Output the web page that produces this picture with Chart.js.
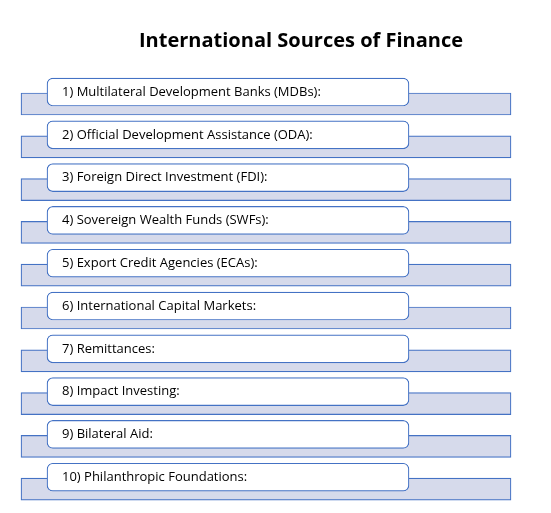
<!DOCTYPE html>
<html><head><meta charset="utf-8">
<script src="https://cdn.jsdelivr.net/npm/chart.js@4"></script>
<style>html,body{margin:0;padding:0;background:#fff}#w{width:551px;height:513px}</style>
</head><body><div id="w"><canvas id="c"></canvas></div>
<script>
const title = "International Sources of Finance";
const categories = ["1) Multilateral Development Banks (MDBs):","2) Official Development Assistance (ODA):","3) Foreign Direct Investment (FDI):","4) Sovereign Wealth Funds (SWFs):","5) Export Credit Agencies (ECAs):","6) International Capital Markets:","7) Remittances:","8) Impact Investing:","9) Bilateral Aid:","10) Philanthropic Foundations:"];
const bandSpan = [21, 511];
const boxSpan = [47, 409];
const rows = categories.map((c,i)=>i);
const BAND_OFF = 0.28;
const bandData = rows.map(i=>({x: bandSpan, y: i + BAND_OFF}));
const boxData = rows.map(i=>({x: boxSpan, y: i}));
const textPlugin = {
  id:'txt',
  afterDatasetsDraw(ch){
    const ctx = ch.ctx, xs = ch.scales.x, ys = ch.scales.y;
    ctx.save();
    ctx.fillStyle = '#000';
    ctx.font = '13px "Open Sans", sans-serif';
    ctx.textBaseline = 'middle';
    rows.forEach(i=>{ ctx.fillText(categories[i], xs.getPixelForValue(boxSpan[0]) + 15, ys.getPixelForValue(i)); });
    ctx.font = 'bold 20px "Open Sans", sans-serif';
    ctx.textAlign = 'center';
    ctx.fillText(title, 301, 41);
    ctx.restore();
  }
};
new Chart(document.getElementById('c'), {
  type:'bar',
  data:{datasets:[
    {data: bandData, backgroundColor:'#d6daeb', borderColor:'#4472c4', borderWidth:1.2, borderSkipped:false, barThickness:22, order:2},
    {data: boxData, backgroundColor:'#ffffff', borderColor:'#4472c4', borderWidth:1.2, borderSkipped:false, borderRadius:6, barThickness:28, order:1}
  ]},
  options:{
    indexAxis:'y', responsive:true, maintainAspectRatio:false, animation:false,
    layout:{padding:0},
    plugins:{legend:{display:false}, tooltip:{enabled:false}, title:{display:false}},
    datasets:{bar:{grouped:false}},
    scales:{
      x:{type:'linear', min:0, max:551, display:false, offset:false, grace:0},
      y:{type:'linear', min:-2.15, max:9.836, reverse:true, display:false, offset:false, grace:0}
    }
  },
  plugins:[textPlugin]
});
</script></body></html>
